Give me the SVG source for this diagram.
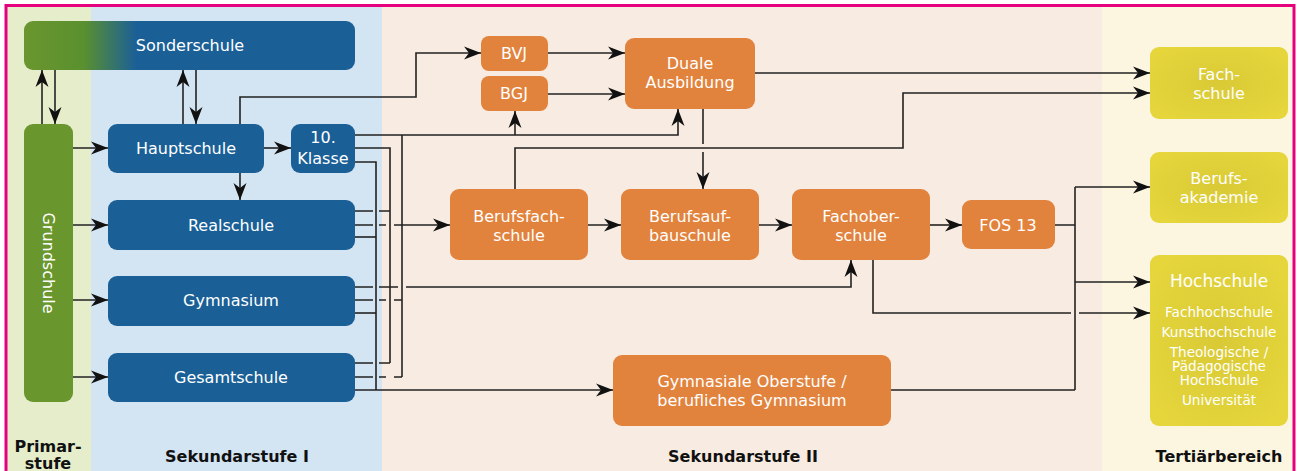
<svg xmlns="http://www.w3.org/2000/svg" width="1297" height="471" viewBox="0 0 1297 471">
<defs>
<style>
.t{font-family:"DejaVu Sans","Verdana",sans-serif;font-size:16px;fill:#fff;text-anchor:middle}
.s{font-size:13.6px}
.h{font-family:"DejaVu Sans",sans-serif;font-size:16px;font-weight:bold;fill:#111;text-anchor:middle}
.blue{fill:#1b5f97}
.org{fill:#e2833d}
.grn{fill:#6a962e}
.yel{fill:url(#yg)}
.c{fill:none;stroke:#222;stroke-width:1.6}
.a{marker-end:url(#ar)}
</style>
<marker id="ar" markerUnits="userSpaceOnUse" markerWidth="18" markerHeight="14" refX="17" refY="7" orient="auto">
<path d="M0,0.5 L17,7 L0,13.5 L5,7 z" fill="#111"/>
</marker>
<linearGradient id="sg" gradientUnits="userSpaceOnUse" x1="24" y1="0" x2="355" y2="0">
<stop offset="0" stop-color="#6a962e"/>
<stop offset="0.18" stop-color="#5a902f"/>
<stop offset="0.34" stop-color="#1b5f97"/>
<stop offset="1" stop-color="#1b5f97"/>
</linearGradient>
<radialGradient id="yg" cx="0.5" cy="0.5" r="0.6">
<stop offset="0" stop-color="#d9c935"/>
<stop offset="1" stop-color="#e6d63c"/>
</radialGradient>
</defs>
<rect x="0" y="0" width="1297" height="471" fill="#fff"/>
<rect x="7" y="6" width="84" height="465" fill="#e5edcb"/>
<rect x="91" y="6" width="291" height="465" fill="#d3e4f3"/>
<rect x="382" y="6" width="720" height="465" fill="#f8ebe1"/>
<rect x="1102" y="6" width="191" height="465" fill="#fcf6e0"/>
<path d="M6,471 V5.5 H1294 V471" fill="none" stroke="#e6007e" stroke-width="3"/>

<g id="connectors">
<path class="c a" d="M42,124 V70"/>
<path class="c a" d="M55,70 V124"/>
<path class="c a" d="M183,124 V70"/>
<path class="c a" d="M196,70 V124"/>
<path class="c a" d="M73,148 H108"/>
<path class="c a" d="M73,225 H108"/>
<path class="c a" d="M73,300 H108"/>
<path class="c a" d="M73,377 H108"/>
<path class="c a" d="M263,148 H291"/>
<path class="c a" d="M240,173 V200"/>
<path class="c a" d="M240,124 V97 H416 V53 H481"/>
<path class="c a" d="M548,53 H625"/>
<path class="c a" d="M548,94 H625"/>
<path class="c a" d="M355,135 H678 V109"/>
<path class="c a" d="M515,135 V111"/>
<path class="c" d="M402,135 V377"/>
<path class="c" d="M355,377 H373 M379,377 H386 M394,377 H402"/>
<path class="c" d="M355,225 H373 M379,225 H386"/>
<path class="c a" d="M394,225 H450"/>
<path class="c" d="M355,300 H373 M379,300 H386 M394,300 H402"/>
<path class="c" d="M355,287 H373 M379,287 H398"/>
<path class="c a" d="M406,287 H851 V260"/>
<path class="c" d="M355,211 H373 M379,211 H390"/>
<path class="c" d="M355,148 H390 V363"/>
<path class="c" d="M355,363 H373 M379,363 H390"/>
<path class="c" d="M355,162 H376 V390"/>
<path class="c" d="M355,237 H376"/>
<path class="c" d="M355,313 H376"/>
<path class="c a" d="M355,390 H613"/>
<path class="c a" d="M755,73 H1150"/>
<path class="c a" d="M515,189 V148 H903 V93 H1150"/>
<path class="c" d="M703,109 V144"/>
<path class="c a" d="M703,152 V189"/>
<path class="c a" d="M588,225 H621"/>
<path class="c a" d="M759,225 H792"/>
<path class="c a" d="M930,225 H962"/>
<path class="c" d="M1055,225 H1075 M1075,187 V390 M891,390 H1075"/>
<path class="c a" d="M1075,187 H1150"/>
<path class="c a" d="M1075,282 H1150"/>
<path class="c" d="M873,260 V313 H1071"/>
<path class="c a" d="M1079,313 H1150"/>
</g>

<g id="sonderschule"><rect x="24" y="21" width="331" height="49" rx="9" fill="url(#sg)"/><text class="t" x="190" y="51">Sonderschule</text></g>
<g id="grundschule"><rect class="grn" x="24" y="124" width="49" height="278" rx="9"/><text class="t" transform="translate(48,263) rotate(90)" y="5.5">Grundschule</text></g>
<g id="hauptschule"><rect class="blue" x="108" y="124" width="156" height="49" rx="9"/><text class="t" x="186" y="154">Hauptschule</text></g>
<g id="klasse10"><rect class="blue" x="291" y="124" width="64" height="49" rx="9"/><text class="t" x="323" y="143">10.</text><text class="t" x="323" y="164">Klasse</text></g>
<g id="realschule"><rect class="blue" x="108" y="200" width="247" height="50" rx="9"/><text class="t" x="231" y="231">Realschule</text></g>
<g id="gymnasium"><rect class="blue" x="108" y="276" width="247" height="50" rx="9"/><text class="t" x="231" y="306">Gymnasium</text></g>
<g id="gesamtschule"><rect class="blue" x="108" y="353" width="247" height="49" rx="9"/><text class="t" x="231" y="383">Gesamtschule</text></g>

<g id="bvj"><rect class="org" x="481" y="36" width="67" height="35" rx="8"/><text class="t" x="514" y="59">BVJ</text></g>
<g id="bgj"><rect class="org" x="481" y="76" width="67" height="35" rx="8"/><text class="t" x="514" y="99">BGJ</text></g>
<g id="duale"><rect class="org" x="625" y="38" width="130" height="71" rx="9"/><text class="t" x="690" y="69">Duale</text><text class="t" x="690" y="88">Ausbildung</text></g>
<g id="berufsfachschule"><rect class="org" x="450" y="189" width="138" height="71" rx="9"/><text class="t" x="519" y="222">Berufsfach-</text><text class="t" x="519" y="241">schule</text></g>
<g id="berufsaufbauschule"><rect class="org" x="621" y="189" width="138" height="71" rx="9"/><text class="t" x="690" y="222">Berufsauf-</text><text class="t" x="690" y="241">bauschule</text></g>
<g id="fachoberschule"><rect class="org" x="792" y="189" width="138" height="71" rx="9"/><text class="t" x="861" y="222">Fachober-</text><text class="t" x="861" y="241">schule</text></g>
<g id="fos13"><rect class="org" x="962" y="200" width="93" height="49" rx="9"/><text class="t" x="1008" y="231">FOS 13</text></g>
<g id="gymoberstufe"><rect class="org" x="613" y="355" width="278" height="71" rx="9"/><text class="t" x="752" y="387">Gymnasiale Oberstufe /</text><text class="t" x="752" y="406">berufliches Gymnasium</text></g>

<g id="fachschule"><rect class="yel" x="1150" y="47" width="138" height="72" rx="9"/><text class="t" x="1219" y="80">Fach-</text><text class="t" x="1219" y="99">schule</text></g>
<g id="berufsakademie"><rect class="yel" x="1150" y="152" width="138" height="71" rx="9"/><text class="t" x="1219" y="184">Berufs-</text><text class="t" x="1219" y="203">akademie</text></g>
<g id="hochschule"><rect class="yel" x="1150" y="255" width="138" height="171" rx="9"/><text class="t" x="1219" y="287" style="font-size:17px">Hochschule</text><text class="t s" x="1219" y="317">Fachhochschule</text><text class="t s" x="1219" y="337">Kunsthochschule</text><text class="t s" x="1219" y="357">Theologische /</text><text class="t s" x="1219" y="371">Pädagogische</text><text class="t s" x="1219" y="385">Hochschule</text><text class="t s" x="1219" y="405">Universität</text></g>

<g id="labels">
<text class="h" x="48" y="452">Primar-</text>
<text class="h" x="48" y="469">stufe</text>
<text class="h" x="237" y="462">Sekundarstufe I</text>
<text class="h" x="743" y="462">Sekundarstufe II</text>
<text class="h" x="1219" y="462">Tertiärbereich</text>
</g>
</svg>
